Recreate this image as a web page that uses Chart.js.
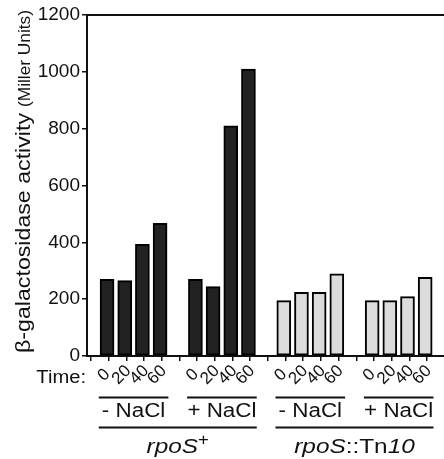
<!DOCTYPE html>
<html lang="en">
<head>
<meta charset="UTF-8">
<title>beta-galactosidase activity, rpoS+ vs rpoS::Tn10</title>
<script src="https://cdn.jsdelivr.net/npm/chart.js"></script>
<style>
  html, body { margin: 0; padding: 0; background: #fff; overflow: hidden; }
</style>
</head>
<body>
<canvas id="activityChart" width="444" height="459"></canvas>
<script>
const timeLabels = ['0', '20', '40', '60'];
const saltLabels = ['- NaCl', '+ NaCl', '- NaCl', '+ NaCl'];
// activity (Miller units): -NaCl at 0/20/40/60 min, then +NaCl at 0/20/40/60 min
const rposPlusValues = [270, 265, 393, 467, 270, 244, 810, 1010];
const rposTn10Values = [195, 224, 224, 289, 195, 195, 209, 277];
const yTickValues = [0, 200, 400, 600, 800, 1000, 1200];

const FONT = "'Liberation Sans', Arial, Helvetica, sans-serif";
const INK = '#111';

// each salt group takes 5 slots: 4 bars and a gap
function slotOf(group, i) { return group * 5 + i; }

function toPoints(values, firstGroup) {
  return values.map((v, k) => ({ x: slotOf(firstGroup + Math.floor(k / 4), k % 4), y: v }));
}

const tickSlots = [];
for (let k = 0; k < 20; k++) tickSlots.push(k - 0.4);

function drawRuns(ctx, runs, x, y, sx, align) {
  let total = 0;
  runs.forEach(r => { ctx.font = r.font; r.w = ctx.measureText(r.text).width; total += r.w; });
  ctx.save();
  ctx.translate(x, y);
  ctx.scale(sx, 1);
  let cx = align === 'center' ? -total / 2 : (align === 'right' ? -total : 0);
  ctx.textAlign = 'left';
  ctx.textBaseline = 'alphabetic';
  runs.forEach(r => {
    ctx.font = r.font;
    ctx.fillText(r.text, cx, r.dy || 0);
    cx += r.w;
  });
  ctx.restore();
}

function drawFitted(ctx, text, font, x, y, length) {
  ctx.save();
  ctx.font = font;
  const w = ctx.measureText(text).width;
  ctx.translate(x, y);
  ctx.rotate(-Math.PI / 2);
  ctx.scale(length / w, 1);
  ctx.textAlign = 'left';
  ctx.textBaseline = 'alphabetic';
  ctx.fillText(text, 0, 0);
  ctx.restore();
}

const labelsPlugin = {
  id: 'figureLabels',
  afterDraw(chart) {
    const ctx = chart.ctx;
    const xs = chart.scales.x;
    ctx.save();
    ctx.fillStyle = INK;
    ctx.strokeStyle = INK;

    // y axis title, two sizes
    drawFitted(ctx, '\u03B2-galactosidase activity', '20px ' + FONT, 30, 353, 240);
    drawFitted(ctx, '(Miller Units)', '16px ' + FONT, 30, 107, 97);

    // time row
    drawRuns(ctx, [{ text: 'Time:', font: '18px ' + FONT }], 86, 383, 1.12, 'right');
    ctx.font = '17px ' + FONT;
    for (let g = 0; g < 4; g++) {
      timeLabels.forEach((t, i) => {
        const px = xs.getPixelForValue(slotOf(g, i));
        ctx.save();
        ctx.translate(px - 3, 375);
        ctx.rotate(-Math.PI / 4);
        ctx.textAlign = 'center';
        ctx.textBaseline = 'middle';
        ctx.fillText(t, 0, 0);
        ctx.restore();
      });
    }

    // salt groups
    ctx.lineWidth = 2;
    saltLabels.forEach((s, g) => {
      const a = xs.getPixelForValue(slotOf(g, 0) - 0.47);
      const b = xs.getPixelForValue(slotOf(g, 3) + 0.47);
      ctx.beginPath();
      ctx.moveTo(a, 397.5);
      ctx.lineTo(b, 397.5);
      ctx.stroke();
      const c = xs.getPixelForValue(slotOf(g, 1.5));
      drawRuns(ctx, [{ text: s, font: '20px ' + FONT }], c, 417, 1.12, 'center');
    });

    // strains
    [0, 2].forEach((g, n) => {
      const a = xs.getPixelForValue(slotOf(g, 0) - 0.47);
      const b = xs.getPixelForValue(slotOf(g + 1, 3) + 0.47);
      ctx.beginPath();
      ctx.moveTo(a, 427.5);
      ctx.lineTo(b, 427.5);
      ctx.stroke();
      const c = (xs.getPixelForValue(slotOf(g, 0)) + xs.getPixelForValue(slotOf(g + 1, 3))) / 2;
      const runs = n === 0
        ? [{ text: 'rpoS', font: 'italic 21px ' + FONT }, { text: '+', font: '16px ' + FONT, dy: -8 }]
        : [{ text: 'rpoS', font: 'italic 21px ' + FONT }, { text: '::Tn', font: '21px ' + FONT }, { text: '10', font: 'italic 21px ' + FONT }];
      drawRuns(ctx, runs, c, 453, 1.16, 'center');
    });
    ctx.restore();
  }
};

new Chart(document.getElementById('activityChart'), {
  type: 'bar',
  data: {
    datasets: [
      {
        label: 'rpoS+',
        data: toPoints(rposPlusValues, 0),
        backgroundColor: '#222222',
        borderColor: '#000',
        borderWidth: 2,
        borderSkipped: false,
        barThickness: 14,
        grouped: false,
        xAxisID: 'x',
        yAxisID: 'y'
      },
      {
        label: 'rpoS::Tn10',
        data: toPoints(rposTn10Values, 2),
        backgroundColor: '#dcdcdc',
        borderColor: '#000',
        borderWidth: 2,
        borderSkipped: false,
        barThickness: 14,
        grouped: false,
        xAxisID: 'x',
        yAxisID: 'y'
      }
    ]
  },
  options: {
    responsive: false,
    animation: false,
    layout: { padding: 0 },
    plugins: { legend: { display: false }, tooltip: { enabled: false } },
    scales: {
      x: {
        type: 'linear',
        position: 'bottom',
        min: -0.63,
        max: 18.56,
        afterBuildTicks: s => { s.ticks = tickSlots.map(v => ({ value: v })); },
        afterFit: s => { s.height = 103; },
        ticks: { display: false },
        grid: { drawOnChartArea: false, drawTicks: true, tickLength: 5, color: INK, lineWidth: 1.5 },
        border: { color: INK, width: 2 }
      },
      xTop: {
        type: 'linear',
        position: 'top',
        min: 0,
        max: 1,
        afterFit: s => { s.height = 15; },
        ticks: { display: false },
        grid: { display: false },
        border: { color: INK, width: 2 }
      },
      y: {
        min: 0,
        max: 1200,
        afterBuildTicks: s => { s.ticks = yTickValues.map(v => ({ value: v })); },
        afterFit: s => { s.width = 87; },
        ticks: { color: INK, font: { family: FONT, size: 19 }, padding: 2, callback: v => String(v) },
        grid: { drawOnChartArea: false, tickLength: 5, color: INK, lineWidth: 1.5 },
        border: { color: INK, width: 2 }
      }
    }
  },
  plugins: [labelsPlugin]
});
</script>
</body>
</html>
